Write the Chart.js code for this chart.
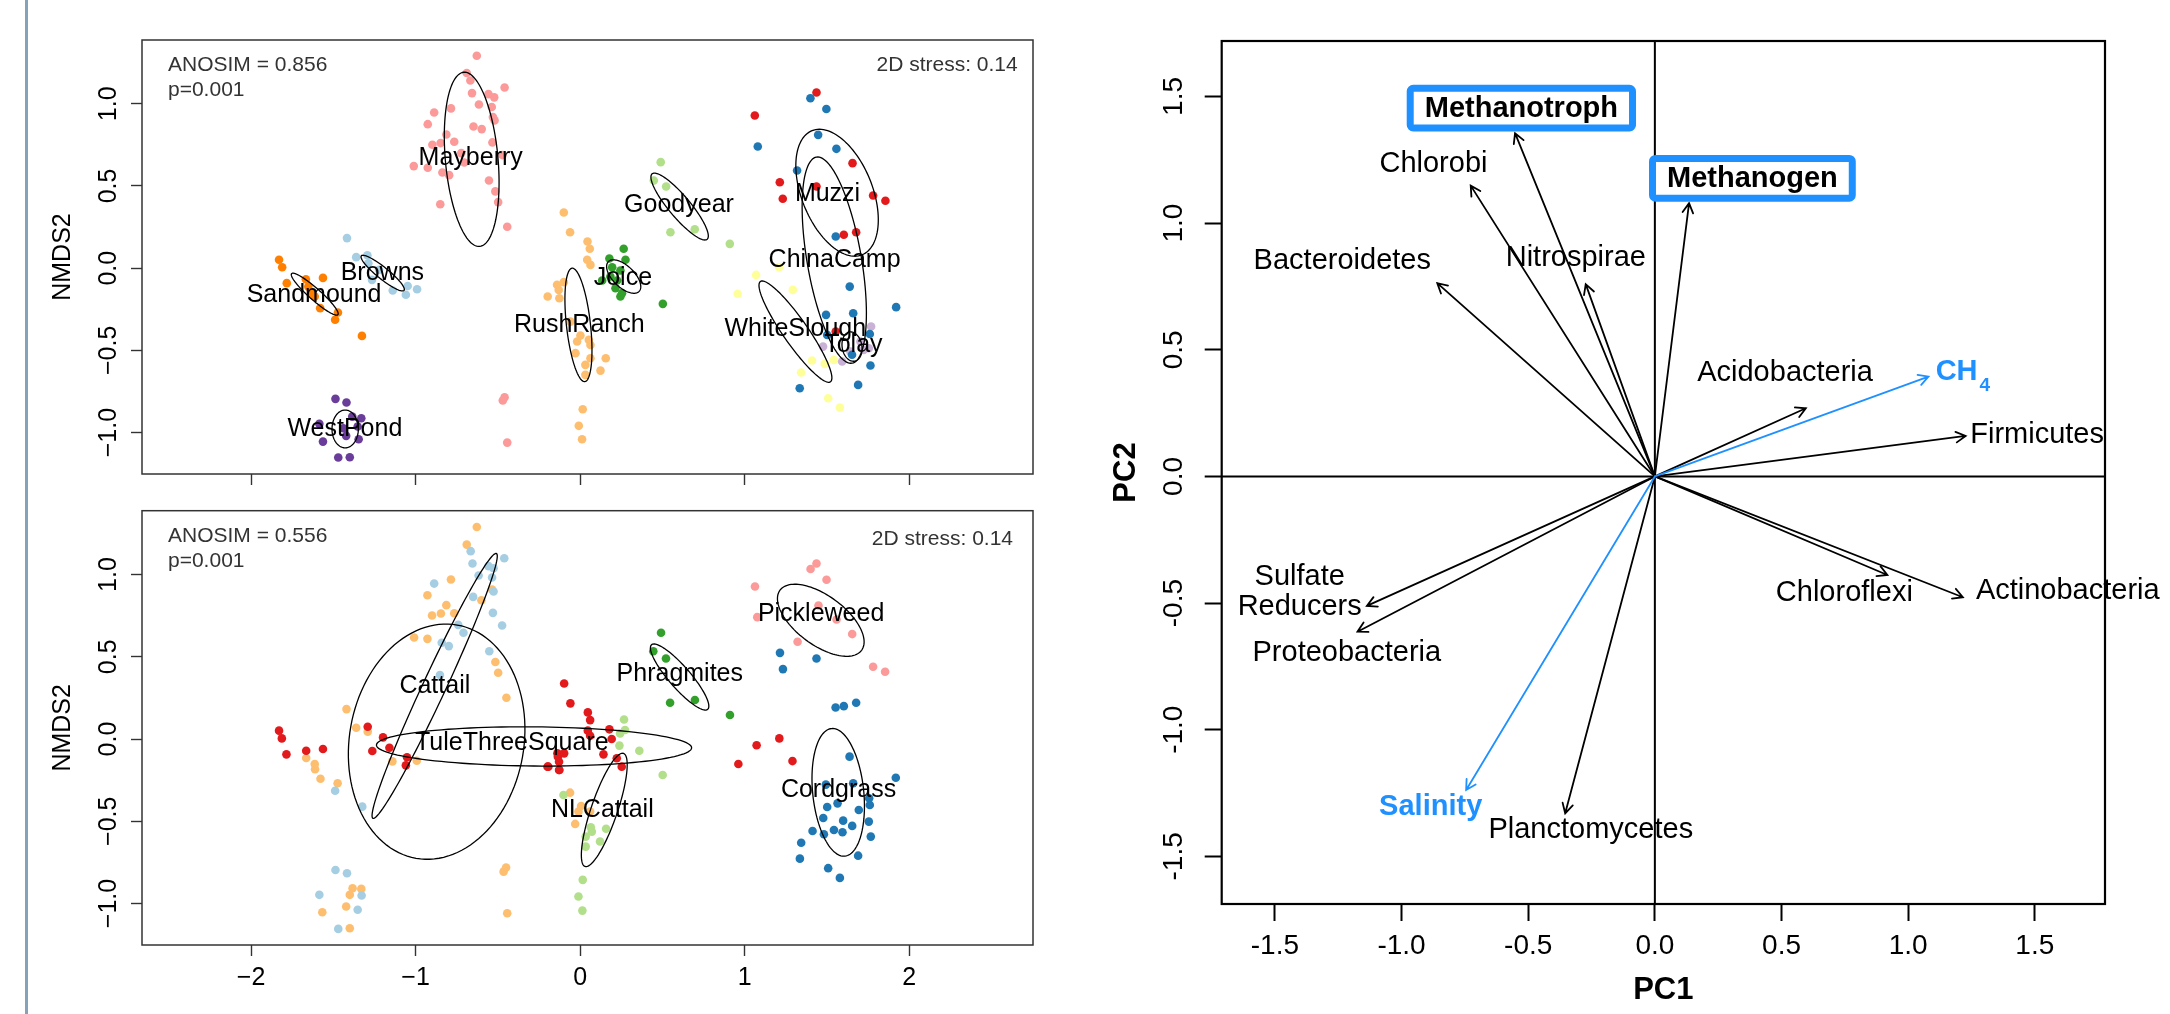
<!DOCTYPE html>
<html>
<head>
<meta charset="utf-8">
<title>NMDS and PCA</title>
<script src="https://cdn.jsdelivr.net/npm/chart.js@4.4.1/dist/chart.umd.min.js"></script>
<style>
  body { margin: 0; background: #fff; }
  #page { position: relative; width: 2170px; height: 1014px; overflow: hidden; }
  #page canvas { position: absolute; }
  #edge { position: absolute; left: 25px; top: 0; width: 3px; height: 1014px; background: #86a2ba; }
</style>
</head>
<body>
<div id="page">
  <div id="edge"></div>
  <canvas id="siteChart" width="1070" height="500" style="left:0;top:0"></canvas>
  <canvas id="vegChart" width="1070" height="514" style="left:0;top:500px"></canvas>
  <canvas id="pcaChart" width="1080" height="1014" style="left:1090px;top:0"></canvas>
</div>
<script>
const FONT = '"Liberation Sans", Arial, Helvetica, sans-serif';
Chart.defaults.font.family = FONT;

// ---------------- NMDS panels ----------------
const nmdsXTicks = [-2, -1, 0, 1, 2];
const nmdsYTicks = [-1, -0.5, 0, 0.5, 1];

// top panel: samples by site, [NMDS1, NMDS2]
const siteNames = ['Browns', 'ChinaCamp', 'Goodyear', 'Joice', 'Mayberry', 'Muzzi', 'RushRanch', 'Sandmound', 'Tolay', 'WestPond', 'WhiteSlough'];
const siteColors = ['#A6CEE3', '#1F78B4', '#B2DF8A', '#33A02C', '#FB9A99', '#E31A1C', '#FDBF6F', '#FF7F00', '#CAB2D6', '#6A3D9A', '#FFFF99'];

const browns = [[-1.417,0.183],[-1.361,0.067],[-1.293,0.079],[-1.287,0.030],[-1.265,-0.071],[-1.222,-0.010],[-1.139,-0.136],[-1.059,-0.162],[-1.048,-0.108],[-0.991,-0.128]];
const chinaCamp = [[1.400,1.034],[1.497,0.968],[1.080,0.740],[1.447,0.811],[1.558,0.726],[1.319,0.594],[1.554,0.193],[1.639,-0.112],[1.495,-0.284],[1.660,-0.274],[1.921,-0.237],[1.761,-0.400],[1.653,-0.527],[1.765,-0.592],[1.335,-0.730],[1.690,-0.710],[1.502,-0.406]];
const goodyear = [[0.490,0.645],[0.448,0.533],[0.523,0.497],[0.549,0.219],[0.697,0.237],[0.910,0.148]];
const joice = [[0.265,0.118],[0.178,0.059],[0.276,0.051],[0.195,0.006],[0.245,-0.014],[0.225,-0.075],[0.134,-0.075],[0.215,-0.122],[0.245,-0.172],[0.255,-0.152],[0.503,-0.217],[0.184,-0.051]];
const mayberry = [[-0.628,1.292],[-0.689,1.187],[-0.667,1.142],[-0.459,1.099],[-0.657,1.065],[-0.557,1.059],[-0.522,1.039],[-0.785,0.972],[-0.887,0.947],[-0.615,0.996],[-0.537,0.980],[-0.530,0.919],[-0.520,0.899],[-0.926,0.876],[-0.648,0.862],[-0.598,0.846],[-0.813,0.813],[-0.898,0.751],[-0.848,0.761],[-0.765,0.769],[-0.533,0.765],[-0.722,0.700],[-0.472,0.688],[-1.011,0.621],[-0.926,0.611],[-0.837,0.582],[-0.796,0.566],[-0.704,0.643],[-0.554,0.533],[-0.515,0.467],[-0.498,0.402],[-0.850,0.389],[-0.443,0.252],[-0.459,-0.785],[-0.470,-0.805],[-0.443,-1.061]];
const muzzi = [[1.437,1.069],[1.062,0.929],[1.656,0.639],[1.214,0.523],[1.437,0.497],[1.232,0.422],[1.781,0.442],[1.856,0.410],[1.603,0.203],[1.678,0.219],[1.554,-0.385]];
const rushRanch = [[-0.099,0.339],[-0.061,0.219],[0.045,0.162],[0.059,0.118],[0.043,0.051],[0.063,0.020],[-0.140,-0.101],[-0.099,-0.085],[-0.197,-0.172],[-0.126,-0.183],[-0.130,-0.132],[-0.059,-0.325],[0.002,-0.410],[-0.018,-0.446],[0.053,-0.436],[0.063,-0.467],[-0.028,-0.517],[0.063,-0.548],[0.156,-0.548],[0.032,-0.588],[0.124,-0.623],[0.032,-0.649],[0.016,-0.858],[-0.008,-0.959],[0.012,-1.041]];
const sandmound = [[-1.830,0.051],[-1.811,0.006],[-1.783,-0.091],[-1.667,-0.067],[-1.652,-0.112],[-1.563,-0.059],[-1.613,-0.172],[-1.580,-0.243],[-1.472,-0.270],[-1.489,-0.314],[-1.326,-0.412],[-1.635,-0.152]];
const tolay = [[1.769,-0.355],[1.477,-0.477],[1.593,-0.568],[1.755,-0.487],[1.704,-0.446],[1.643,-0.507],[1.724,-0.497]];
const westPond = [[-1.487,-0.795],[-1.420,-0.817],[-1.585,-0.947],[-1.385,-0.903],[-1.330,-0.913],[-1.352,-0.963],[-1.563,-1.055],[-1.422,-1.020],[-1.346,-1.041],[-1.470,-1.152],[-1.400,-1.150],[-1.439,-0.974]];
const whiteSlough = [[1.210,0.006],[1.070,-0.041],[1.293,-0.132],[0.958,-0.156],[1.410,-0.562],[1.487,-0.582],[1.542,-0.558],[1.343,-0.635],[1.508,-0.791],[1.579,-0.848]];
const sitePoints = [browns, chinaCamp, goodyear, joice, mayberry, muzzi, rushRanch, sandmound, tolay, westPond, whiteSlough];

// group ellipses: centre x, centre y, semi-axis a, semi-axis b, angle of a (degrees)
const siteEllipses = [[-1.200,-0.030,0.167,0.035,-39],[1.545,0.049,0.636,0.165,99.8],[0.605,0.375,0.260,0.065,-50],[0.265,-0.051,0.130,0.065,-44],[-0.659,0.662,0.532,0.160,95.2],[1.562,0.459,0.407,0.215,111.9],[-0.010,-0.345,0.347,0.073,96.4],[-1.613,-0.158,0.188,0.035,-41.6],[1.653,-0.477,0.090,0.060,100],[-1.428,-0.978,0.115,0.080,90],[1.309,-0.386,0.372,0.075,124.9]];
const siteLabelAt = [[-1.202,-0.030],[1.547,0.051],[0.601,0.385],[0.260,-0.061],[-0.665,0.669],[1.504,0.452],[-0.005,-0.345],[-1.617,-0.162],[1.661,-0.467],[-1.430,-0.978],[1.308,-0.369]];

// bottom panel: samples by vegetation
const vegNames = ['Cattail', 'Cordgrass', 'NLCattail', 'Phragmites', 'Pickleweed', 'TuleThreeSquare', 'Mixed'];
const vegColors = ['#A6CEE3', '#1F78B4', '#B2DF8A', '#33A02C', '#FB9A99', '#E31A1C', '#FDBF6F'];

const cattail = [[-0.665,1.142],[-0.654,1.067],[-0.557,1.051],[-0.526,1.038],[-0.461,1.099],[-0.617,0.994],[-0.535,0.982],[-0.887,0.945],[-0.526,0.897],[-0.650,0.864],[-0.530,0.767],[-0.474,0.690],[-0.741,0.694],[-0.709,0.646],[-0.841,0.585],[-0.798,0.565],[-0.552,0.534],[-0.852,0.389],[-1.489,-0.314],[-1.324,-0.411],[-1.487,-0.796],[-1.417,-0.816],[-1.328,-0.951],[-1.585,-0.947],[-1.352,-1.038],[-1.470,-1.154]];
const cordgrass = [[1.215,0.524],[1.233,0.425],[1.437,0.490],[1.553,0.192],[1.603,0.200],[1.678,0.221],[1.638,-0.107],[1.494,-0.277],[1.660,-0.269],[1.919,-0.235],[1.757,-0.360],[1.761,-0.401],[1.502,-0.413],[1.565,-0.391],[1.694,-0.431],[1.478,-0.480],[1.599,-0.496],[1.755,-0.502],[1.654,-0.528],[1.413,-0.559],[1.543,-0.553],[1.482,-0.579],[1.595,-0.567],[1.767,-0.593],[1.344,-0.630],[1.336,-0.727],[1.690,-0.709],[1.508,-0.785],[1.579,-0.844]];
const nlCattail = [[0.267,0.119],[0.273,0.055],[0.243,0.034],[0.239,-0.040],[0.360,-0.071],[0.502,-0.219],[-0.101,-0.340],[0.065,-0.536],[0.071,-0.563],[0.158,-0.545],[0.034,-0.593],[0.121,-0.623],[0.034,-0.654],[0.016,-0.856],[-0.010,-0.957],[0.014,-1.043]];
const phragmites = [[0.492,0.646],[0.445,0.534],[0.522,0.490],[0.547,0.221],[0.698,0.237],[0.911,0.146]];
const pickleweed = [[1.437,1.067],[1.401,1.034],[1.498,0.968],[1.063,0.927],[1.449,0.812],[1.077,0.741],[1.559,0.727],[1.654,0.638],[1.322,0.591],[1.781,0.439],[1.854,0.409]];
const tuleThreeSquare = [[-1.830,0.051],[-1.813,0.004],[-1.785,-0.093],[-1.665,-0.071],[-1.563,-0.061],[-1.291,0.075],[-1.198,0.010],[-1.159,-0.053],[-1.263,-0.073],[-1.052,-0.111],[-1.059,-0.160],[-0.193,-0.168],[-0.135,-0.107],[-0.128,-0.188],[-0.097,0.338],[-0.059,0.217],[0.047,0.162],[0.061,0.115],[0.047,0.051],[0.061,0.020],[0.178,0.059],[0.192,0.000],[-0.138,-0.087],[-0.097,-0.087],[-0.198,-0.168],[-0.128,-0.138],[-0.126,-0.188],[0.223,-0.117],[0.253,-0.168],[0.142,-0.093],[1.073,-0.038],[1.211,0.004],[0.962,-0.152],[1.291,-0.134]];
const mixed = [[-0.628,1.289],[-0.689,1.182],[-0.785,0.970],[-0.928,0.874],[-0.535,0.909],[-0.600,0.844],[-0.813,0.814],[-0.765,0.765],[-0.846,0.763],[-0.900,0.751],[-1.009,0.617],[-0.928,0.609],[-0.515,0.468],[-0.498,0.403],[-0.448,0.251],[-1.420,0.182],[-1.361,0.069],[-1.291,0.045],[-1.141,-0.136],[-0.993,-0.132],[-1.665,-0.115],[-1.613,-0.152],[-1.611,-0.184],[-1.578,-0.241],[-1.474,-0.269],[-1.383,-0.907],[-1.330,-0.911],[-1.400,-0.947],[-1.422,-1.018],[-1.567,-1.053],[-1.400,-1.150],[-0.450,-0.781],[-0.465,-0.806],[-0.443,-1.059],[-0.061,-0.326],[0.006,-0.407],[0.061,-0.441],[-0.030,-0.516],[-0.010,-0.441]];
const vegPoints = [cattail, cordgrass, nlCattail, phragmites, pickleweed, tuleThreeSquare, mixed];

const vegEllipses = [[-0.884,0.323,0.888,0.070,65],[1.569,-0.324,0.390,0.155,96],[0.147,-0.431,0.363,0.080,71.2],[0.605,0.377,0.260,0.065,-49],[1.463,0.722,0.308,0.150,-36.4],[-0.280,-0.045,0.958,0.119,-0.5],[-0.872,-0.016,0.720,0.530,80]];
const vegLabelAt = [[-0.883,0.324],[1.571,-0.310],[0.135,-0.435],[0.606,0.393],[1.465,0.757],[-0.415,-0.026],null];

// ---------------- PCA biplot ----------------
const pcaTicks = [-1.5, -1, -0.5, 0, 0.5, 1, 1.5];
const taxaNames = ['Methanotroph', 'Chlorobi', 'Methanogen', 'Bacteroidetes', 'Nitrospirae', 'Acidobacteria', 'Firmicutes', 'Sulfate\nReducers', 'Proteobacteria', 'Planctomycetes', 'Chloroflexi', 'Actinobacteria'];
const taxaPC1 = [-0.552, -0.727, 0.135, -0.859, -0.273, 0.596, 1.227, -1.137, -1.174, -0.354, 0.918, 1.216];
const taxaPC2 = [1.355, 1.148, 1.079, 0.763, 0.759, 0.269, 0.160, -0.511, -0.613, -1.330, -0.389, -0.477];
const taxaLabelAt = [[-0.527,1.454],[-0.874,1.234],[0.385,1.177],[-1.234,0.852],[-0.312,0.861],[0.514,0.407],[1.509,0.164],[-1.402,-0.457],[-1.216,-0.698],[-0.253,-1.396],[0.748,-0.459],[1.630,-0.451]];
const envNames = ['CH4', 'Salinity'];
const envPC1 = [1.080, -0.745];
const envPC2 = [0.394, -1.238];
const envLabelAt = [[1.216,0.411],[-0.885,-1.304]];

const boxedTaxa = ['Methanotroph', 'Methanogen'];
const BLUE = '#1E90FF';

function fmtMinus(v, digits) {
  return v.toFixed(digits).replace('-', '\u2212');
}

function drawRotated(ctx, text, x, y) {
  ctx.save();
  ctx.translate(x, y);
  ctx.rotate(-Math.PI / 2);
  ctx.textAlign = 'center';
  ctx.textBaseline = 'alphabetic';
  ctx.fillText(text, 0, 0);
  ctx.restore();
}

function strokeEllipse(ctx, xs, ys, e) {
  const t = e[4] * Math.PI / 180;
  ctx.beginPath();
  for (let i = 0; i <= 120; i++) {
    const u = i / 120 * 2 * Math.PI;
    const dx = e[2] * Math.cos(u) * Math.cos(t) - e[3] * Math.sin(u) * Math.sin(t);
    const dy = e[2] * Math.cos(u) * Math.sin(t) + e[3] * Math.sin(u) * Math.cos(t);
    const px = xs.getPixelForValue(e[0] + dx);
    const py = ys.getPixelForValue(e[1] + dy);
    if (i === 0) ctx.moveTo(px, py); else ctx.lineTo(px, py);
  }
  ctx.closePath();
  ctx.stroke();
}

const nmdsDecor = {
  id: 'nmdsDecor',
  afterDatasetsDraw(chart, args, opts) {
    const ctx = chart.ctx, xs = chart.scales.x, ys = chart.scales.y, a = chart.chartArea;
    ctx.save();
    ctx.strokeStyle = '#000';
    ctx.lineWidth = 1.3;
    opts.ellipses.forEach(e => strokeEllipse(ctx, xs, ys, e));

    ctx.font = '25px ' + FONT;
    ctx.fillStyle = '#000';
    ctx.textAlign = 'center';
    ctx.textBaseline = 'middle';
    opts.names.forEach((n, i) => {
      const p = opts.labels[i];
      if (p) ctx.fillText(n, xs.getPixelForValue(p[0]), ys.getPixelForValue(p[1]));
    });

    ctx.strokeStyle = '#333';
    ctx.lineWidth = 1.5;
    ctx.strokeRect(a.left, a.top, a.right - a.left, a.bottom - a.top);

    ctx.font = '21px ' + FONT;
    ctx.fillStyle = '#333';
    ctx.textAlign = 'left';
    ctx.fillText(opts.anosim, 168, opts.noteY);
    ctx.fillText('p=0.001', 168, opts.noteY + 24.5);
    ctx.textAlign = 'right';
    ctx.fillText('2D stress: 0.14', opts.stressX, opts.stressY);

    ctx.fillStyle = '#000';
    ctx.font = '25px ' + FONT;
    ys.ticks.forEach(t => drawRotated(ctx, fmtMinus(t.value, 1), 116, ys.getPixelForValue(t.value)));
    drawRotated(ctx, 'NMDS2', 69.5, (a.top + a.bottom) / 2);
    ctx.restore();
  }
};

function nmdsChart(id, names, colors, points, ellipses, labels, cfg) {
  return new Chart(document.getElementById(id), {
    type: 'scatter',
    data: {
      datasets: points.map((pts, i) => ({
        label: names[i],
        data: pts.map(p => ({x: p[0], y: p[1]})),
        pointRadius: 4.3,
        pointHoverRadius: 4.3,
        pointBorderWidth: 0,
        pointBackgroundColor: colors[i],
        borderColor: colors[i]
      }))
    },
    options: {
      responsive: false,
      animation: false,
      layout: {padding: {left: 0, top: cfg.top, right: 37, bottom: 0}},
      plugins: {
        legend: {display: false},
        tooltip: {enabled: false},
        nmdsDecor: {names: names, ellipses: ellipses, labels: labels, anosim: cfg.anosim, noteY: cfg.noteY, stressX: cfg.stressX, stressY: cfg.stressY}
      },
      scales: {
        x: {
          type: 'linear', min: -2.663, max: 2.753,
          afterBuildTicks: s => { s.ticks = nmdsXTicks.map(v => ({value: v})); },
          afterFit: s => { s.height = cfg.xh; },
          border: {display: false},
          grid: {drawOnChartArea: false, drawTicks: true, tickLength: 11, tickColor: '#333', tickWidth: 1.4},
          ticks: {display: cfg.showX, padding: 7.3, color: '#000', font: {size: 25}, maxRotation: 0, callback: v => fmtMinus(v, 0)}
        },
        y: {
          type: 'linear', min: -1.252, max: 1.388,
          afterBuildTicks: s => { s.ticks = nmdsYTicks.map(v => ({value: v})); },
          afterFit: s => { s.width = 142; },
          border: {display: false},
          grid: {drawOnChartArea: false, drawTicks: true, tickLength: 11, tickColor: '#333', tickWidth: 1.4},
          ticks: {display: false}
        }
      }
    },
    plugins: [nmdsDecor]
  });
}

nmdsChart('siteChart', siteNames, siteColors, sitePoints, siteEllipses, siteLabelAt,
  {top: 40, xh: 26, showX: false, anosim: 'ANOSIM = 0.856', noteY: 65.7, stressX: 1017.7, stressY: 65.7});
nmdsChart('vegChart', vegNames, vegColors, vegPoints, vegEllipses, vegLabelAt,
  {top: 10.7, xh: 69, showX: true, anosim: 'ANOSIM = 0.556', noteY: 36.7, stressX: 1013, stressY: 39});

// ---------------- PCA chart ----------------
function drawArrow(ctx, x0, y0, x1, y1) {
  const ang = Math.atan2(y1 - y0, x1 - x0), len = 11, spread = 0.5;
  ctx.beginPath();
  ctx.moveTo(x0, y0);
  ctx.lineTo(x1, y1);
  ctx.moveTo(x1 - len * Math.cos(ang - spread), y1 - len * Math.sin(ang - spread));
  ctx.lineTo(x1, y1);
  ctx.lineTo(x1 - len * Math.cos(ang + spread), y1 - len * Math.sin(ang + spread));
  ctx.stroke();
}

const pcaDecor = {
  id: 'pcaDecor',
  beforeDatasetsDraw(chart) {
    const ctx = chart.ctx, xs = chart.scales.x, ys = chart.scales.y, a = chart.chartArea;
    const ox = xs.getPixelForValue(0), oy = ys.getPixelForValue(0);
    ctx.save();
    ctx.strokeStyle = '#000';
    ctx.lineWidth = 2;
    ctx.beginPath();
    ctx.moveTo(a.left, oy); ctx.lineTo(a.right, oy);
    ctx.moveTo(ox, a.top); ctx.lineTo(ox, a.bottom);
    ctx.stroke();
    ctx.restore();
  },
  afterDatasetsDraw(chart) {
    const ctx = chart.ctx, xs = chart.scales.x, ys = chart.scales.y, a = chart.chartArea;
    const ox = xs.getPixelForValue(0), oy = ys.getPixelForValue(0);
    ctx.save();
    ctx.lineCap = 'round';
    chart.data.datasets.forEach((ds, di) => {
      ctx.strokeStyle = ds.borderColor;
      ctx.lineWidth = 1.8;
      chart.getDatasetMeta(di).data.forEach(el => drawArrow(ctx, ox, oy, el.x, el.y));
    });

    ctx.textAlign = 'center';
    ctx.textBaseline = 'middle';
    taxaNames.forEach((n, i) => {
      const px = xs.getPixelForValue(taxaLabelAt[i][0]);
      const py = ys.getPixelForValue(taxaLabelAt[i][1]);
      if (boxedTaxa.includes(n)) {
        ctx.font = 'bold 29px ' + FONT;
        const w = ctx.measureText(n).width + 36;
        const h = 46.7;
        ctx.fillStyle = '#fff';
        ctx.strokeStyle = BLUE;
        ctx.lineWidth = 7;
        ctx.beginPath();
        ctx.roundRect(px - w / 2 + 3.5, py - h / 2 + 3.5, w - 7, h - 7, 3);
        ctx.fill();
        ctx.stroke();
        ctx.fillStyle = '#000';
        ctx.fillText(n, px, py + 1);
      } else {
        ctx.font = '29px ' + FONT;
        ctx.fillStyle = '#000';
        const lines = n.split('\n');
        lines.forEach((ln, k) => ctx.fillText(ln, px, py + (k - (lines.length - 1) / 2) * 30));
      }
    });

    ctx.fillStyle = BLUE;
    envNames.forEach((n, i) => {
      const px = xs.getPixelForValue(envLabelAt[i][0]);
      const py = ys.getPixelForValue(envLabelAt[i][1]);
      if (n === 'CH4') {
        ctx.font = 'bold 29px ' + FONT;
        const wMain = ctx.measureText('CH').width;
        ctx.font = 'bold 19px ' + FONT;
        const wSub = ctx.measureText('4').width;
        const x0 = px - (wMain + 2 + wSub) / 2;
        ctx.textAlign = 'left';
        ctx.font = 'bold 29px ' + FONT;
        ctx.fillText('CH', x0, py);
        ctx.font = 'bold 19px ' + FONT;
        ctx.fillText('4', x0 + wMain + 2, py + 13);
        ctx.textAlign = 'center';
      } else {
        ctx.font = 'bold 29px ' + FONT;
        ctx.fillText(n, px, py);
      }
    });

    ctx.strokeStyle = '#000';
    ctx.lineWidth = 2.2;
    ctx.strokeRect(a.left, a.top, a.right - a.left, a.bottom - a.top);

    ctx.fillStyle = '#000';
    ctx.font = '28px ' + FONT;
    ys.ticks.forEach(t => drawRotated(ctx, t.value.toFixed(1), 91.7, ys.getPixelForValue(t.value)));
    ctx.font = 'bold 31px ' + FONT;
    drawRotated(ctx, 'PC2', 45, (a.top + a.bottom) / 2);
    ctx.textAlign = 'center';
    ctx.textBaseline = 'middle';
    ctx.fillText('PC1', (a.left + a.right) / 2, 990);
    ctx.restore();
  }
};

new Chart(document.getElementById('pcaChart'), {
  type: 'scatter',
  data: {
    datasets: [
      {label: 'Taxa', data: taxaPC1.map((v, i) => ({x: v, y: taxaPC2[i]})), pointRadius: 0, borderColor: '#000'},
      {label: 'Environment', data: envPC1.map((v, i) => ({x: v, y: envPC2[i]})), pointRadius: 0, borderColor: BLUE}
    ]
  },
  options: {
    responsive: false,
    animation: false,
    layout: {padding: {left: 0, top: 41, right: 65, bottom: 0}},
    plugins: {legend: {display: false}, tooltip: {enabled: false}},
    scales: {
      x: {
        type: 'linear', min: -1.710, max: 1.777,
        afterBuildTicks: s => { s.ticks = pcaTicks.map(v => ({value: v})); },
        afterFit: s => { s.height = 110; },
        border: {display: false},
        grid: {drawOnChartArea: false, drawTicks: true, tickLength: 17, tickColor: '#000', tickWidth: 2},
        ticks: {padding: 8.9, color: '#000', font: {size: 28}, maxRotation: 0, callback: v => v.toFixed(1)}
      },
      y: {
        type: 'linear', min: -1.688, max: 1.719,
        afterBuildTicks: s => { s.ticks = pcaTicks.map(v => ({value: v})); },
        afterFit: s => { s.width = 131.7; },
        border: {display: false},
        grid: {drawOnChartArea: false, drawTicks: true, tickLength: 17, tickColor: '#000', tickWidth: 2},
        ticks: {display: false}
      }
    }
  },
  plugins: [pcaDecor]
});
</script>
</body>
</html>
